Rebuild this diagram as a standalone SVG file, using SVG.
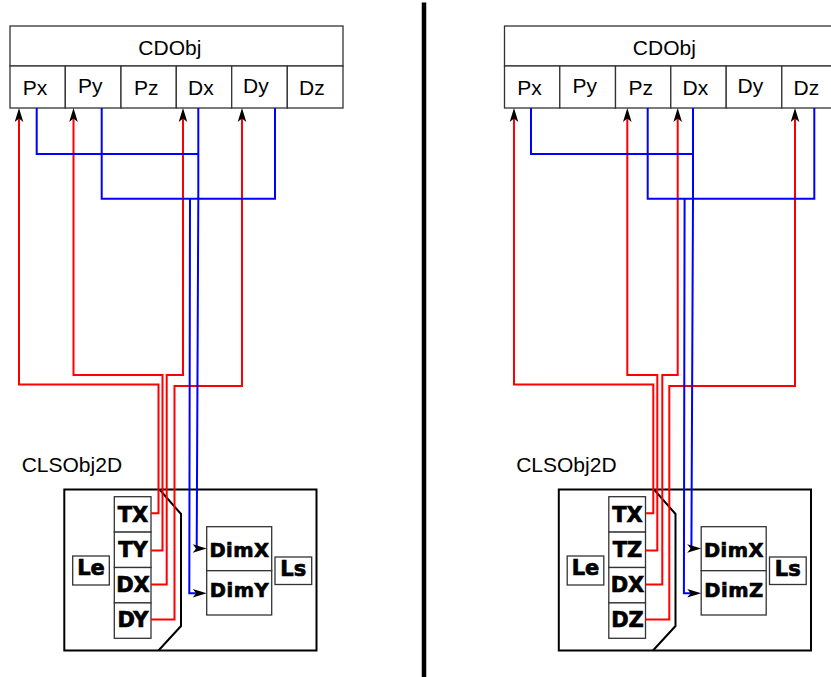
<svg xmlns="http://www.w3.org/2000/svg" width="831" height="677" viewBox="0 0 831 677">
<style>
.box{fill:#fff;stroke:#333;stroke-width:1.3}
.outer{fill:none;stroke:#000;stroke-width:2}
.lbl{font-family:"Liberation Sans",Arial,sans-serif;font-size:21px;fill:#000}
.b{font-family:"DejaVu Sans",sans-serif;font-weight:bold;font-size:21px;text-anchor:middle;fill:#000;stroke:#000;stroke-width:0.7px}
.dim{font-size:19.5px;letter-spacing:0.5px}
.red{fill:none;stroke:#f00;stroke-width:2}
.blue{fill:none;stroke:#00f;stroke-width:2}
.sep{stroke:#000;stroke-width:4.5}
</style>
<defs>
<marker id="arr" viewBox="-7 -6 16 12" refX="0" refY="0" markerWidth="16" markerHeight="12" markerUnits="userSpaceOnUse" orient="auto">
<path d="M8,0 L-6,-4.3 L-2.5,0 L-6,4.3 Z" fill="#000"/>
</marker>
</defs>
<rect width="831" height="677" fill="#fff"/>
<line class="sep" x1="424" y1="2.5" x2="424" y2="677"/>

<!-- LEFT -->
<g id="cdobj-left">
<rect class="box" x="10" y="26" width="333" height="40"/>
<text class="lbl" x="138.3" y="55">CDObj</text>
<g id="l-px"><rect class="box" x="10" y="66" width="55.3" height="42"/><text class="lbl" x="22.7" y="95">Px</text></g>
<g id="l-py"><rect class="box" x="65.3" y="66" width="55.7" height="42"/><text class="lbl" x="78" y="93">Py</text></g>
<g id="l-pz"><rect class="box" x="121" y="66" width="55.3" height="42"/><text class="lbl" x="134" y="95">Pz</text></g>
<g id="l-dx"><rect class="box" x="176.3" y="66" width="55.4" height="42"/><text class="lbl" x="188" y="95">Dx</text></g>
<g id="l-dy"><rect class="box" x="231.7" y="66" width="55.6" height="42"/><text class="lbl" x="243" y="93">Dy</text></g>
<g id="l-dz"><rect class="box" x="287.3" y="66" width="55.7" height="42"/><text class="lbl" x="299" y="95">Dz</text></g>
</g>

<g id="clsobj2d-left">
<text class="lbl" x="21.7" y="472">CLSObj2D</text>
<path class="outer" d="M64.3,489.5 H316.5 V650.5 H64.3 Z"/>
<path class="outer" d="M159.5,489.5 L181,514 V626 L158.5,650.5"/>
<g id="l-le"><rect class="box" x="72.7" y="556" width="36.6" height="29"/><text class="b" x="91" y="575">Le</text></g>
<g id="l-tx"><rect class="box" x="114.3" y="496.7" width="36.7" height="35.4"/><text class="b" x="133" y="521.7">TX</text></g>
<g id="l-ty"><rect class="box" x="114.3" y="532.1" width="36.7" height="35.4"/><text class="b" x="133" y="556.8">TY</text></g>
<g id="l-dxo"><rect class="box" x="114.3" y="567.5" width="36.7" height="35.4"/><text class="b" x="133" y="591.8">DX</text></g>
<g id="l-dyo"><rect class="box" x="114.3" y="602.9" width="36.7" height="35.4"/><text class="b" x="133" y="627.3">DY</text></g>
<g id="l-dimx"><rect class="box" x="206.7" y="526.7" width="65" height="44"/><text class="b dim" x="239.5" y="556.7">DimX</text></g>
<g id="l-dimy"><rect class="box" x="206.7" y="570.7" width="65" height="44.3"/><text class="b dim" x="239.5" y="597.3">DimY</text></g>
<g id="l-ls"><rect class="box" x="275" y="557" width="36.7" height="27.5"/><text class="b" x="293.3" y="576">Ls</text></g>
</g>

<!-- RIGHT -->
<g id="cdobj-right" transform="translate(494.5,0)">
<rect class="box" x="10" y="26" width="333" height="40"/>
<text class="lbl" x="138.3" y="55">CDObj</text>
<g id="r-px"><rect class="box" x="10" y="66" width="55.3" height="42"/><text class="lbl" x="22.7" y="95">Px</text></g>
<g id="r-py"><rect class="box" x="65.3" y="66" width="55.7" height="42"/><text class="lbl" x="78" y="93">Py</text></g>
<g id="r-pz"><rect class="box" x="121" y="66" width="55.3" height="42"/><text class="lbl" x="134" y="95">Pz</text></g>
<g id="r-dx"><rect class="box" x="176.3" y="66" width="55.4" height="42"/><text class="lbl" x="188" y="95">Dx</text></g>
<g id="r-dy"><rect class="box" x="231.7" y="66" width="55.6" height="42"/><text class="lbl" x="243" y="93">Dy</text></g>
<g id="r-dz"><rect class="box" x="287.3" y="66" width="55.7" height="42"/><text class="lbl" x="299" y="95">Dz</text></g>
</g>

<g id="clsobj2d-right" transform="translate(494.5,0)">
<text class="lbl" x="21.7" y="472">CLSObj2D</text>
<path class="outer" d="M64.3,489.5 H316.5 V650.5 H64.3 Z"/>
<path class="outer" d="M159.5,489.5 L181,514 V626 L158.5,650.5"/>
<g id="r-le"><rect class="box" x="72.7" y="556" width="36.6" height="29"/><text class="b" x="91" y="575">Le</text></g>
<g id="r-tx"><rect class="box" x="114.3" y="496.7" width="36.7" height="35.4"/><text class="b" x="133" y="521.7">TX</text></g>
<g id="r-tz"><rect class="box" x="114.3" y="532.1" width="36.7" height="35.4"/><text class="b" x="133" y="556.8">TZ</text></g>
<g id="r-dxo"><rect class="box" x="114.3" y="567.5" width="36.7" height="35.4"/><text class="b" x="133" y="591.8">DX</text></g>
<g id="r-dzo"><rect class="box" x="114.3" y="602.9" width="36.7" height="35.4"/><text class="b" x="133" y="627.3">DZ</text></g>
<g id="r-dimx"><rect class="box" x="206.7" y="526.7" width="65" height="44"/><text class="b dim" x="239.5" y="556.7">DimX</text></g>
<g id="r-dimz"><rect class="box" x="206.7" y="570.7" width="65" height="44.3"/><text class="b dim" x="239.5" y="597.3">DimZ</text></g>
<g id="r-ls"><rect class="box" x="275" y="557" width="36.7" height="27.5"/><text class="b" x="293.3" y="576">Ls</text></g>
</g>

<g id="connectors">
<!-- left red -->
<path class="red" marker-end="url(#arr)" d="M151,513.3 H158.5 V384.5 H19 V116"/>
<path class="red" marker-end="url(#arr)" d="M151,550.5 H162.5 V375 H73.5 V116"/>
<path class="red" marker-end="url(#arr)" d="M151,584.5 H166.7 V375 H183 V116"/>
<path class="red" marker-end="url(#arr)" d="M151,619.5 H174.5 V386 H242 V116"/>
<!-- left blue -->
<path class="blue" d="M36.7,108 V154 H198.3"/>
<path class="blue" marker-end="url(#arr)" d="M198.3,108 V200 L196.7,548.5 H198.7"/>
<path class="blue" d="M101.7,108 V198.7 H275 V108"/>
<path class="blue" marker-end="url(#arr)" d="M190,198.7 L189.3,593.3 H198.7"/>
<!-- right red -->
<path class="red" marker-end="url(#arr)" d="M645.5,513.3 H653.3 V384.5 H514 V116"/>
<path class="red" marker-end="url(#arr)" d="M645.5,550.5 H657.3 V375 H627.3 V116"/>
<path class="red" marker-end="url(#arr)" d="M645.5,584.5 H662.3 V375 H677.7 V116"/>
<path class="red" marker-end="url(#arr)" d="M645.5,619.5 H669.3 V386 H795 V116"/>
<!-- right blue -->
<path class="blue" d="M531,108 V154 H693"/>
<path class="blue" marker-end="url(#arr)" d="M693,108 V200 L691.4,548.5 H693.2"/>
<path class="blue" d="M647.7,108 V198.7 H814.3 V108"/>
<path class="blue" marker-end="url(#arr)" d="M684.6,198.7 L683.9,593.3 H693.2"/>
</g>
</svg>
